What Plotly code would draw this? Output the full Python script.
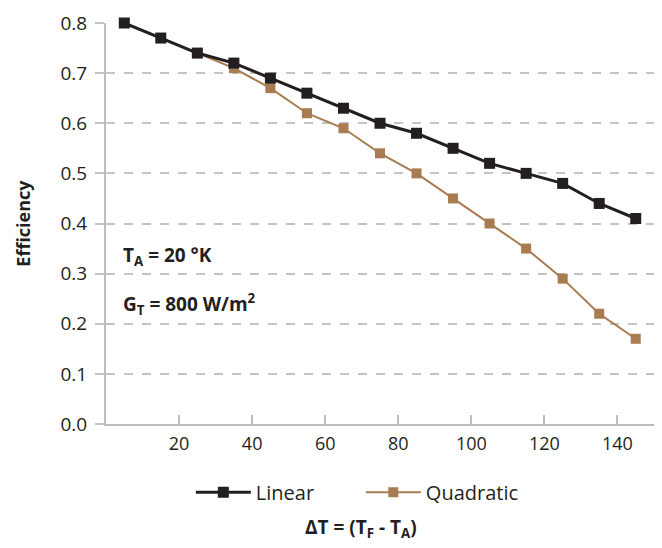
import plotly.graph_objects as go

delta_t = [5, 15, 25, 35, 45, 55, 65, 75, 85, 95, 105, 115, 125, 135, 145]
linear = [0.80, 0.77, 0.74, 0.72, 0.69, 0.66, 0.63, 0.60, 0.58, 0.55, 0.52, 0.50, 0.48, 0.44, 0.41]
quadratic = [0.80, 0.77, 0.74, 0.71, 0.67, 0.62, 0.59, 0.54, 0.50, 0.45, 0.40, 0.35, 0.29, 0.22, 0.17]
x_ticks = [20, 40, 60, 80, 100, 120, 140]
y_ticks = [0.0, 0.1, 0.2, 0.3, 0.4, 0.5, 0.6, 0.7, 0.8]

black = '#231f20'
brown = '#a97b50'
font = 'Open Sans'

fig = go.Figure()
fig.add_trace(go.Scatter(
    x=delta_t, y=quadratic, name='Quadratic', mode='lines+markers',
    line=dict(color=brown, width=2),
    marker=dict(symbol='square', size=10, color=brown),
    cliponaxis=False))
fig.add_trace(go.Scatter(
    x=delta_t, y=linear, name='Linear', mode='lines+markers',
    line=dict(color=black, width=3),
    marker=dict(symbol='square', size=11, color=black),
    cliponaxis=False))

# page body has an 8px margin, so margins are shifted by 8
fig.update_layout(
    width=662, height=548,
    margin=dict(l=98, r=16, t=15, b=132, autoexpand=False),
    plot_bgcolor='white', paper_bgcolor='white',
    font=dict(family=font, color='#231f20', size=16),
    showlegend=True,
    legend=dict(orientation='h', x=0.465, xanchor='center', y=-0.17, yanchor='middle',
                traceorder='reversed', font=dict(size=20), itemwidth=55, entrywidth=100),
)
fig.update_xaxes(
    range=[0, 150], tickvals=x_ticks, showgrid=False, zeroline=False,
    showline=True, linecolor='#bdbdbd', linewidth=2,
    ticks='inside', ticklen=9, tickcolor='#bdbdbd', tickwidth=2,
    tickfont=dict(size=18), ticklabelstandoff=2, automargin=False)
fig.update_yaxes(
    range=[0, 0.8], tickvals=y_ticks, tickformat='.1f',
    showgrid=True, gridcolor='#c4c4c4', gridwidth=1.5, griddash='dash',
    zeroline=False, showline=True, linecolor='#bdbdbd', linewidth=2,
    ticks='outside', ticklen=9, tickcolor='#c4c4c4', tickwidth=1.5,
    tickfont=dict(size=19), ticklabelstandoff=4, automargin=False)

fig.add_annotation(xref='paper', yref='paper', x=0.465, y=-0.26, xanchor='center',
                   yanchor='middle', showarrow=False,
                   text='<b>ΔT = (T<sub>F</sub> - T<sub>A</sub>)</b>', font=dict(size=19))
fig.add_annotation(xref='paper', yref='paper', x=-0.153, y=0.5, xanchor='center',
                   yanchor='middle', showarrow=False,
                   textangle=-90, text='<b>Efficiency</b>', font=dict(size=18))
fig.add_annotation(x=4, y=0.335, xanchor='left', showarrow=False,
                   text='<b>T<sub>A</sub> = 20 °K</b>', font=dict(size=19))
fig.add_annotation(x=4, y=0.24, xanchor='left', showarrow=False,
                   text='<b>G<sub>T</sub> = 800 W/m<sup>2</sup></b>', font=dict(size=19))

fig.write_html("out.html")
